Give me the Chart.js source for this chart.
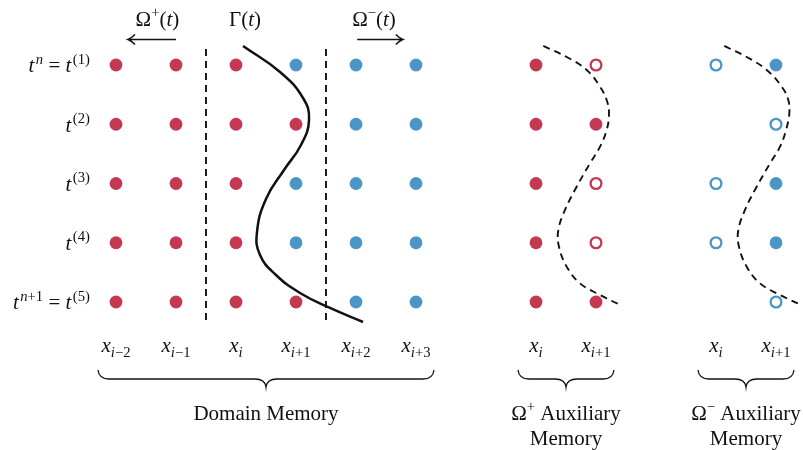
<!DOCTYPE html>
<html>
<head>
<meta charset="utf-8">
<title>Domain and auxiliary memory layout</title>
<script src="https://cdn.jsdelivr.net/npm/chart.js@4/dist/chart.umd.min.js"></script>
<style>
  html, body { margin: 0; padding: 0; background: #ffffff; }
  canvas { display: block; background: #ffffff; }
</style>
</head>
<body>
<canvas id="chart" width="803" height="450"></canvas>
<script>
// ---- data -------------------------------------------------------------
// time levels (rows) and their labels
const timeSteps = [1, 2, 3, 4, 5];
const timeLabels = ['$t^{n} = t^{(1)}$', '$t^{(2)}$', '$t^{(3)}$', '$t^{(4)}$', '$t^{n+1} = t^{(5)}$'];

// grid nodes (columns) of each memory block and their labels
const domainNodes = [0, 1, 2, 3, 4, 5];
const domainNodeLabels = ['$x_{i−2}$', '$x_{i−1}$', '$x_{i}$', '$x_{i+1}$', '$x_{i+2}$', '$x_{i+3}$'];
const plusAuxNodes = [7, 8];
const plusAuxLabels = ['$x_{i}$', '$x_{i+1}$'];
const minusAuxNodes = [10, 11];
const minusAuxLabels = ['$x_{i}$', '$x_{i+1}$'];

// phase of every domain node per time level: 1 = Ω⁺, -1 = Ω⁻
const domainPhase = [
  [1, 1, 1, -1, -1, -1],
  [1, 1, 1, 1, -1, -1],
  [1, 1, 1, -1, -1, -1],
  [1, 1, 1, -1, -1, -1],
  [1, 1, 1, 1, -1, -1]
];
// auxiliary storage per time level: 2 = real value, 1 = ghost value, 0 = unused
const plusAuxState = [
  [2, 1],
  [2, 2],
  [2, 1],
  [2, 1],
  [2, 2]
];
const minusAuxState = [
  [1, 2],
  [0, 1],
  [1, 2],
  [1, 2],
  [0, 1]
];

// interface Γ(t) traced through the domain block
const interfaceX = [2.117, 2.733, 3.117, 3.217, 3.083, 2.8, 2.5, 2.35, 2.4, 2.667, 3.067, 3.567, 4.117];
const interfaceY = [0.679, 1.118, 1.557, 1.928, 2.35, 2.772, 3.262, 3.819, 4.207, 4.544, 4.848, 5.101, 5.338];
// interface copies drawn over the auxiliary blocks
const plusGhostX = [7.122, 7.512, 7.845, 8.067, 8.178, 8.217, 8.178, 8.067, 7.9, 7.678, 7.483, 7.372, 7.383, 7.512, 7.733, 8.067, 8.372];
const plusGhostY = [0.679, 0.865, 1.084, 1.366, 1.591, 1.816, 2.097, 2.379, 2.66, 3.054, 3.447, 3.785, 4.067, 4.404, 4.685, 4.882, 5.034];
const minusGhostX = [10.138, 10.512, 10.845, 11.095, 11.205, 11.222, 11.167, 11.067, 10.9, 10.678, 10.483, 10.372, 10.383, 10.512, 10.733, 11.067, 11.388];
const minusGhostY = [0.679, 0.865, 1.084, 1.366, 1.591, 1.816, 2.097, 2.379, 2.66, 3.054, 3.447, 3.785, 4.067, 4.404, 4.685, 4.882, 5.034];

// dashed separators of the domain block
const separatorX = [1.5, 3.5];
const separatorY = [0.73, 5.354];

// headings and captions
const regionLabels = ['$Ω^{+}(t)$', '$Γ(t)$', '$Ω^{−}(t)$'];
const groupCaptions = [
  ['Domain Memory'],
  ['$Ω^{+}$ Auxiliary', 'Memory'],
  ['$Ω^{−}$ Auxiliary', 'Memory']
];

// ---- styles -----------------------------------------------------------
const RED = '#C43851';
const BLUE = '#4C95C7';
const INK = '#111111';
const FONT = '"Liberation Serif", "DejaVu Serif", serif';
const BASE = 21;

// ---- build datasets ---------------------------------------------------
const redFilled = [], blueFilled = [], redHollow = [], blueHollow = [];
timeSteps.forEach((t, r) => {
  domainNodes.forEach((x, c) => {
    (domainPhase[r][c] > 0 ? redFilled : blueFilled).push({ x, y: t });
  });
  plusAuxNodes.forEach((x, c) => {
    const s = plusAuxState[r][c];
    if (s === 2) redFilled.push({ x, y: t });
    else if (s === 1) redHollow.push({ x, y: t });
  });
  minusAuxNodes.forEach((x, c) => {
    const s = minusAuxState[r][c];
    if (s === 2) blueFilled.push({ x, y: t });
    else if (s === 1) blueHollow.push({ x, y: t });
  });
});

const zip = (xs, ys) => xs.map((x, i) => ({ x, y: ys[i] }));

function dotSet(data, color, hollow) {
  return {
    data,
    showLine: false,
    pointStyle: 'circle',
    pointRadius: hollow ? 5.4 : 6.4,
    pointHoverRadius: hollow ? 5.4 : 6.4,
    pointBackgroundColor: hollow ? '#ffffff' : color,
    pointBorderColor: color,
    pointBorderWidth: hollow ? 2.3 : 0
  };
}
function curveSet(data, dash, width, tension) {
  return {
    data,
    showLine: true,
    pointRadius: 0,
    pointHoverRadius: 0,
    borderColor: INK,
    borderWidth: width,
    borderDash: dash,
    tension,
    fill: false
  };
}

const datasets = [
  dotSet(redFilled, RED, false),
  dotSet(blueFilled, BLUE, false),
  dotSet(redHollow, RED, true),
  dotSet(blueHollow, BLUE, true),
  curveSet(zip(interfaceX, interfaceY), [], 2.5, 0.45),
  curveSet(zip(plusGhostX, plusGhostY), [7, 5], 1.9, 0.4),
  curveSet(zip(minusGhostX, minusGhostY), [7, 5], 1.9, 0.4)
];
separatorX.forEach(sx => {
  datasets.push(curveSet(separatorY.map(y => ({ x: sx, y })), [7, 5], 1.9, 0));
});

// ---- text helpers -----------------------------------------------------
function parseRich(src) {
  const out = [];
  let math = false;
  let i = 0;
  const push = (ch, lvl) => out.push({ ch, it: math && /[a-z]/.test(ch), lvl });
  while (i < src.length) {
    const c = src[i];
    if (c === '$') { math = !math; i++; continue; }
    if ((c === '^' || c === '_') && src[i + 1] === '{') {
      const end = src.indexOf('}', i + 2);
      for (const ch of src.slice(i + 2, end)) push(ch, c === '^' ? 1 : -1);
      i = end + 1;
      continue;
    }
    push(c, 0);
    i++;
  }
  return out;
}

function fontFor(g, size) {
  const s = g.lvl === 0 ? size : size * 0.7;
  return (g.it ? 'italic ' : '') + s.toFixed(1) + 'px ' + FONT;
}

function drawRich(ctx, src, x, y, align, size) {
  const glyphs = parseRich(src);
  let w = 0;
  const widths = glyphs.map((g, k) => {
    ctx.font = fontFor(g, size);
    let gw = ctx.measureText(g.ch).width;
    const prev = glyphs[k - 1];
    if (prev && prev.it && prev.lvl === 0 && g.lvl === 1) gw += 1.5;
    return gw;
  });
  widths.forEach(v => { w += v; });
  let cx = align === 'right' ? x - w : align === 'center' ? x - w / 2 : x;
  ctx.textAlign = 'left';
  ctx.textBaseline = 'alphabetic';
  glyphs.forEach((g, k) => {
    ctx.font = fontFor(g, size);
    const pad = widths[k] - ctx.measureText(g.ch).width;
    const dy = g.lvl === 1 ? -0.42 * size : g.lvl === -1 ? 0.24 * size : 0;
    ctx.fillText(g.ch, cx + pad, y + dy);
    cx += widths[k];
  });
}

function brace(ctx, x0, x1, yTop) {
  const xc = (x0 + x1) / 2;
  const yMid = yTop + 9;
  const yTip = yTop + 17;
  const r = 11;
  ctx.beginPath();
  ctx.moveTo(x0, yTop);
  ctx.quadraticCurveTo(x0 + 1, yMid, x0 + r, yMid);
  ctx.lineTo(xc - r, yMid);
  ctx.quadraticCurveTo(xc - 1, yMid, xc, yTip);
  ctx.quadraticCurveTo(xc + 1, yMid, xc + r, yMid);
  ctx.lineTo(x1 - r, yMid);
  ctx.quadraticCurveTo(x1 - 1, yMid, x1, yTop);
  ctx.stroke();
}

function arrow(ctx, xFrom, xTo, y) {
  const dir = Math.sign(xTo - xFrom);
  ctx.beginPath();
  ctx.moveTo(xFrom, y);
  ctx.lineTo(xTo, y);
  ctx.moveTo(xTo - dir * 7, y - 5);
  ctx.quadraticCurveTo(xTo - dir * 3, y - 1, xTo, y);
  ctx.quadraticCurveTo(xTo - dir * 3, y + 1, xTo - dir * 7, y + 5);
  ctx.stroke();
}

// ---- annotation plugin ------------------------------------------------
const annotations = {
  id: 'annotations',
  afterDatasetsDraw(chart) {
    const ctx = chart.ctx;
    const xs = chart.scales.x, ys = chart.scales.y;
    const px = v => xs.getPixelForValue(v);
    const py = v => ys.getPixelForValue(v);
    ctx.save();
    ctx.fillStyle = INK;
    ctx.strokeStyle = INK;

    // time level labels
    timeSteps.forEach((t, r) => {
      drawRich(ctx, timeLabels[r], px(domainNodes[0]) - 26, py(t) + 7.5, 'right', BASE);
    });

    // node labels, braces and captions under each block
    const nodeRow = py(timeSteps[timeSteps.length - 1]) + 50;
    const groups = [
      [domainNodes, domainNodeLabels],
      [plusAuxNodes, plusAuxLabels],
      [minusAuxNodes, minusAuxLabels]
    ];
    groups.forEach(([nodes, labels], gi) => {
      nodes.forEach((n, k) => drawRich(ctx, labels[k], px(n), nodeRow, 'center', BASE));
      const x0 = px(nodes[0] - 0.3);
      const x1 = px(nodes[nodes.length - 1] + 0.3);
      ctx.lineWidth = 1.3;
      brace(ctx, x0, x1, nodeRow + 18);
      const cx = (px(nodes[0]) + px(nodes[nodes.length - 1])) / 2;
      groupCaptions[gi].forEach((line, li) => {
        drawRich(ctx, line, cx, nodeRow + 68 + li * 25, 'center', BASE);
      });
    });

    // region headings and arrows
    const headingAt = [0.69, 2.15, 4.3];
    regionLabels.forEach((lab, k) => drawRich(ctx, lab, px(headingAt[k]), 26, 'center', BASE));
    ctx.lineWidth = 1.5;
    arrow(ctx, px(1.0), px(0.2), 39.5);
    arrow(ctx, px(4.02), px(4.78), 39.5);

    ctx.restore();
  }
};

// ---- chart ------------------------------------------------------------
new Chart(document.getElementById('chart'), {
  type: 'scatter',
  data: { datasets },
  options: {
    responsive: false,
    animation: false,
    devicePixelRatio: 1,
    events: [],
    layout: { padding: 0, autoPadding: false },
    plugins: {
      legend: { display: false },
      tooltip: { enabled: false }
    },
    scales: {
      x: { type: 'linear', min: -1.9333, max: 11.45, display: false },
      y: { type: 'linear', reverse: true, min: -0.097, max: 7.498, display: false }
    }
  },
  plugins: [annotations]
});
</script>
</body>
</html>
